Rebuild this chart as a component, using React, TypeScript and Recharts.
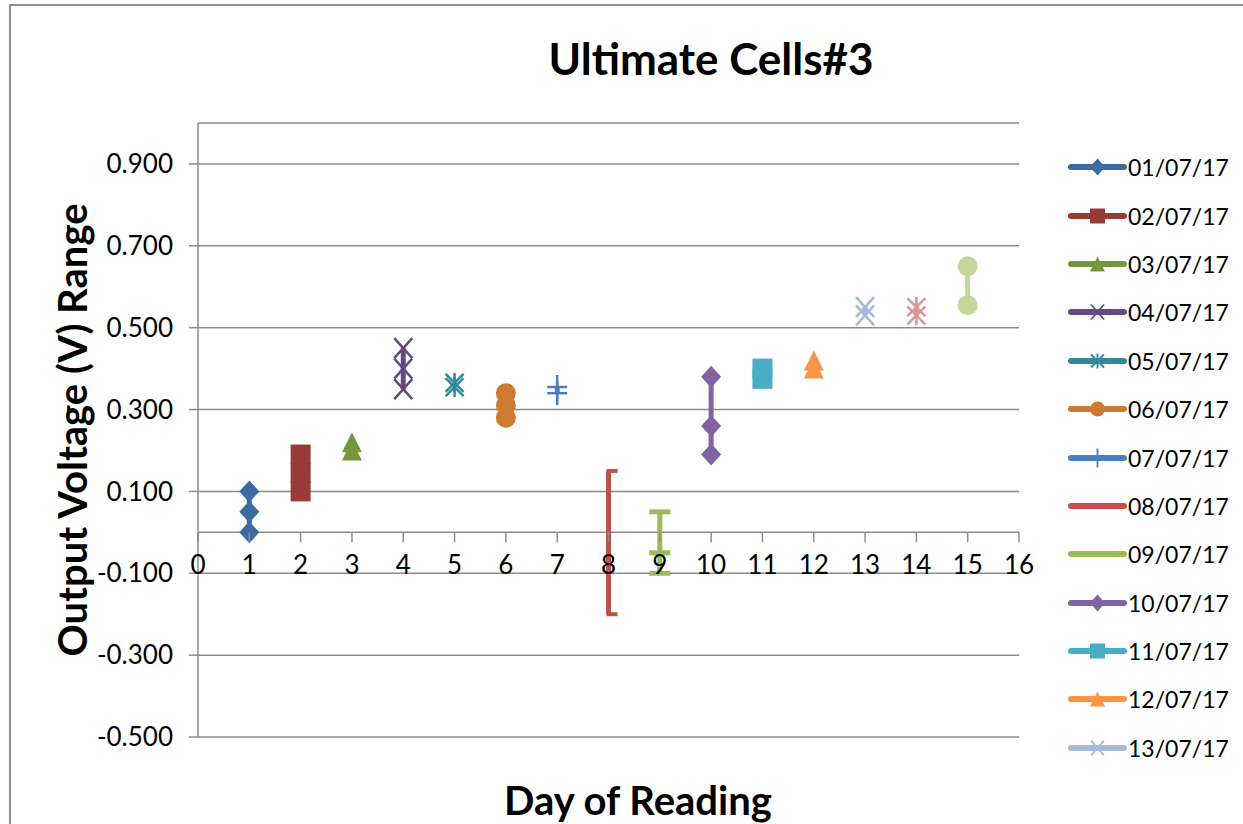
import { ScatterChart, Scatter, XAxis, YAxis, CartesianGrid, ReferenceLine, Legend } from 'recharts'

const dates = [
  '01/07/17', '02/07/17', '03/07/17', '04/07/17', '05/07/17',
  '06/07/17', '07/07/17', '08/07/17', '09/07/17', '10/07/17',
  '11/07/17', '12/07/17', '13/07/17', '14/07/17', '15/07/17',
]
const days = [1, 2, 3, 4, 5, 6, 7, 8, 9, 10, 11, 12, 13, 14, 15]

// readings of each day, top to bottom
const readings = [
  [0.1, 0.05, 0.0],
  [0.19, 0.145, 0.1],
  [0.22, 0.2],
  [0.45, 0.4, 0.35],
  [0.365, 0.355],
  [0.34, 0.31, 0.28],
  [0.355, 0.34],
  [0.15, -0.2],
  [0.05, -0.05, -0.1],
  [0.38, 0.26, 0.19],
  [0.4, 0.375],
  [0.42, 0.4],
  [0.55, 0.53],
  [0.55, 0.53],
  [0.65, 0.555],
]
const xTicks = [0, 1, 2, 3, 4, 5, 6, 7, 8, 9, 10, 11, 12, 13, 14, 15, 16]
const yTicks = [-0.5, -0.3, -0.1, 0.1, 0.3, 0.5, 0.7, 0.9]
const legendCount = 13

const colors = [
  '#3d6aa2', '#983a37', '#76953d', '#634a80', '#33889c', '#cd7a32',
  '#4a7ebf', '#c0504d', '#9bbb59', '#8064a2', '#4bacc6', '#f79646',
  '#a7b9da', '#d99694', '#c3d69b',
]
type Kind = 'diamond' | 'square' | 'triangle' | 'x' | 'star' | 'circle' | 'plus' | 'bracket' | 'dash'
const kinds: Kind[] = [
  'diamond', 'square', 'triangle', 'x', 'star', 'circle', 'plus', 'bracket', 'dash',
  'diamond', 'square', 'triangle', 'x', 'star', 'circle',
]

const FONT = 'Lato, "Open Sans", sans-serif'
const W = 1243
const H = 824
const PLOT_LEFT = 198
const PLOT_RIGHT = 1019
const PLOT_TOP = 123
const PLOT_BOTTOM = 737
const Y_MIN = -0.5
const Y_MAX = 1.0
const YAXIS_W = 80
const XAXIS_H = 30
const LEGEND_W = 177
const ZERO_Y = PLOT_TOP + ((Y_MAX - 0) / (Y_MAX - Y_MIN)) * (PLOT_BOTTOM - PLOT_TOP)
const GRID = '#8c8c8c'

function marker(kind: Kind, cx: number, cy: number, color: string, s = 1) {
  const h = 10 * s
  switch (kind) {
    case 'diamond':
      return <polygon points={`${cx},${cy - h - 1} ${cx + h},${cy} ${cx},${cy + h + 1} ${cx - h},${cy}`} fill={color} />
    case 'square':
      return <rect x={cx - h} y={cy - h} width={2 * h} height={2 * h} fill={color} />
    case 'triangle':
      return <polygon points={`${cx},${cy - h} ${cx + h},${cy + h} ${cx - h},${cy + h}`} fill={color} />
    case 'x':
      return (
        <g stroke={color} strokeWidth={2.5 * s}>
          <line x1={cx - h + 1} y1={cy - h} x2={cx + h - 1} y2={cy + h} />
          <line x1={cx - h + 1} y1={cy + h} x2={cx + h - 1} y2={cy - h} />
        </g>
      )
    case 'star':
      return (
        <g stroke={color} strokeWidth={2.5 * s}>
          <line x1={cx - h + 1} y1={cy - h + 1} x2={cx + h - 1} y2={cy + h - 1} />
          <line x1={cx - h + 1} y1={cy + h - 1} x2={cx + h - 1} y2={cy - h + 1} />
          <line x1={cx} y1={cy - h} x2={cx} y2={cy + h} />
        </g>
      )
    case 'circle':
      return <circle cx={cx} cy={cy} r={h} fill={color} />
    case 'plus':
      return (
        <g stroke={color} strokeWidth={2.5 * s}>
          <line x1={cx - h} y1={cy} x2={cx + h} y2={cy} />
          <line x1={cx} y1={cy - h - 2} x2={cx} y2={cy + h + 2} />
        </g>
      )
    case 'bracket':
      return <line x1={cx - 2} y1={cy} x2={cx + 9} y2={cy} stroke={color} strokeWidth={4} />
    case 'dash':
      return <rect x={cx - 10.5} y={cy - 2.5} width={21} height={5} fill={color} />
  }
}

function XTick(props: any) {
  const { x, payload } = props
  return (
    <g>
      <line x1={x} x2={x} y1={ZERO_Y} y2={ZERO_Y + 10} stroke={GRID} strokeWidth={1.5} />
      <text x={x} y={ZERO_Y + 42} textAnchor='middle' fontSize={26} fontFamily={FONT} fill='#000'>
        {payload.value}
      </text>
    </g>
  )
}

function LegendList(props: any) {
  const payload = (props.payload || []).slice(0, legendCount)
  return (
    <div style={{ fontFamily: FONT }}>
      {payload.map((entry: any) => {
        const i = dates.indexOf(entry.value)
        return (
          <div key={entry.value} style={{ display: 'flex', alignItems: 'center', height: 48.4 }}>
            <svg width={62} height={24}>
              <line x1={5} x2={58} y1={12} y2={12} stroke={colors[i]} strokeWidth={6} strokeLinecap='round' />
              {kinds[i] === 'bracket' || kinds[i] === 'dash' ? null : marker(kinds[i], 31.5, 12, colors[i], 0.75)}
            </svg>
            <span style={{ fontSize: 23, color: '#000' }}>{entry.value}</span>
          </div>
        )
      })}
    </div>
  )
}

export default function App() {
  return (
    <div style={{ position: 'fixed', left: 0, top: 0, width: W, height: H, overflow: 'hidden', background: '#fff' }}>
      <div
        style={{
          position: 'absolute', left: 9, top: 4, width: W + 50, height: H + 50,
          border: '2px solid #8f8f8f',
        }}
      />
      <div
        style={{
          position: 'absolute', left: 711, top: 58, transform: 'translate(-50%, -50%)',
          fontFamily: FONT, fontWeight: 700, fontSize: 44, whiteSpace: 'nowrap',
        }}
      >
        Ultimate Cells#3
      </div>
      <div
        style={{
          position: 'absolute', left: 72, top: 430, transform: 'translate(-50%, -50%) rotate(-90deg)',
          fontFamily: FONT, fontWeight: 700, fontSize: 40, whiteSpace: 'nowrap',
        }}
      >
        Output Voltage (V) Range
      </div>
      <div
        style={{
          position: 'absolute', left: 638, top: 800, transform: 'translate(-50%, -50%)',
          fontFamily: FONT, fontWeight: 700, fontSize: 40, whiteSpace: 'nowrap',
        }}
      >
        Day of Reading
      </div>
      <div style={{ position: 'absolute', left: 0, top: 0 }}>
        <ScatterChart
          width={W}
          height={H}
          margin={{
            top: PLOT_TOP,
            right: W - PLOT_RIGHT - LEGEND_W,
            bottom: H - PLOT_BOTTOM - XAXIS_H,
            left: PLOT_LEFT - YAXIS_W,
          }}
        >
          <CartesianGrid vertical={false} stroke={GRID} strokeWidth={1.5} />
          <XAxis
            type='number'
            dataKey='x'
            domain={[0, 16]}
            ticks={xTicks}
            interval={0}
            height={XAXIS_H}
            axisLine={false}
            tickLine={false}
            tick={<XTick />}
          />
          <YAxis
            type='number'
            dataKey='y'
            domain={[Y_MIN, Y_MAX]}
            ticks={yTicks}
            interval={0}
            width={YAXIS_W}
            axisLine={{ stroke: GRID, strokeWidth: 1.5 }}
            tickLine={{ stroke: GRID, strokeWidth: 1.5 }}
            tickSize={9}
            tickMargin={16}
            tickFormatter={(v: number) => v.toFixed(3)}
            tick={{ fontSize: 26, fill: '#000', fontFamily: FONT }}
          />
          <ReferenceLine y={0} stroke={GRID} strokeWidth={1.5} />
          <Legend
            layout='vertical'
            align='right'
            verticalAlign='top'
            wrapperStyle={{ left: 1066, top: 143, width: LEGEND_W }}
            content={<LegendList />}
          />
          {dates.map((d, i) => (
            <Scatter
              key={d}
              name={d}
              data={readings[i].map((v) => ({ x: days[i], y: v }))}
              fill={colors[i]}
              line={{ stroke: colors[i], strokeWidth: 5 }}
              isAnimationActive={false}
              shape={(p: any) => marker(kinds[i], p.cx, p.cy, colors[i])}
            />
          ))}
        </ScatterChart>
      </div>
    </div>
  )
}
